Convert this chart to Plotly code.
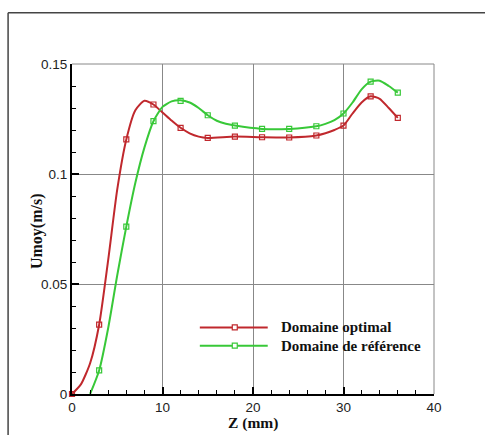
import plotly.graph_objects as go

# ---- Data ----
# marker positions
z_opt = [0, 3, 6, 9, 12, 15, 18, 21, 24, 27, 30, 33, 36]
u_opt = [0.0, 0.0315, 0.1157, 0.1316, 0.1210, 0.1164, 0.1170, 0.1167, 0.1166, 0.1175, 0.1220, 0.1353, 0.1255]

z_ref = [3, 6, 9, 12, 15, 18, 21, 24, 27, 30, 33, 36]
u_ref = [0.0107, 0.0761, 0.1240, 0.1332, 0.1267, 0.1220, 0.1205, 0.1205, 0.1217, 0.1275, 0.1420, 0.1370]

# smooth curve
z_opt_curve = [0, 1, 2, 3, 4, 5, 6, 7, 8, 9, 10, 11, 12, 13, 14, 15, 18, 21, 24, 27, 28, 29, 30, 31, 32, 33, 34, 35, 36]
u_opt_curve = [0.0, 0.0045, 0.0140, 0.0315, 0.0610, 0.0930, 0.1157, 0.1290, 0.1333, 0.1316, 0.1280, 0.1243, 0.1210,
               0.1185, 0.1170, 0.1164, 0.1170, 0.1167, 0.1166, 0.1175, 0.1185, 0.1200, 0.1220, 0.1275, 0.1325,
               0.1353, 0.1342, 0.1300, 0.1255]

z_ref_curve = [2, 3, 4, 5, 6, 7, 8, 9, 10, 11, 12, 13, 14, 15, 16, 17, 18, 21, 24, 27, 28, 29, 30, 31, 32, 33, 34, 35, 36]
u_ref_curve = [0.0, 0.0107, 0.0300, 0.0540, 0.0761, 0.0960, 0.1120, 0.1240, 0.1305, 0.1330, 0.1335, 0.1325, 0.1300,
               0.1267, 0.1242, 0.1228, 0.1220, 0.1205, 0.1205, 0.1217, 0.1228, 0.1245, 0.1275, 0.1325, 0.1385,
               0.1420, 0.1424, 0.1400, 0.1370]

series_names = ["Domaine optimal", "Domaine de référence"]
series_colors = ["#c0282d", "#38c838"]

x_ticks = [0, 10, 20, 30, 40]
y_ticks = [0, 0.05, 0.1, 0.15]
y_ticktext = ["0", "0.05", "0.1", "0.15"]

W, H = 485, 435
L, R, T, B = 72, 50.5, 63.5, 40.5
pw, ph = W - L - R, H - T - B


def px2paper(x, y):
    return (x - L) / pw, (H - B - y) / ph


fig = go.Figure()
for zc, uc, zs, us, name, col in [
    (z_opt_curve, u_opt_curve, z_opt, u_opt, series_names[0], series_colors[0]),
    (z_ref_curve, u_ref_curve, z_ref, u_ref, series_names[1], series_colors[1]),
]:
    fig.add_trace(go.Scatter(
        x=zc, y=uc, name=name, mode="lines",
        line=dict(color=col, width=2, shape="spline", smoothing=0.6),
        showlegend=False, cliponaxis=False, hoverinfo="skip"))
    fig.add_trace(go.Scatter(
        x=zs, y=us, name=name, mode="markers",
        marker=dict(symbol="square-open", size=5, color=col, line=dict(width=1.2, color=col)),
        showlegend=False, cliponaxis=False))

shapes = []
# outer frame (top + left)
x0, y0 = px2paper(8, 12)
x1, _ = px2paper(W + 5, 12)
_, y1 = px2paper(8, H + 5)
shapes.append(dict(type="line", xref="paper", yref="paper", x0=x0, y0=y0, x1=x1, y1=y0,
                   line=dict(color="#444444", width=1.5)))
shapes.append(dict(type="line", xref="paper", yref="paper", x0=x0, y0=y0, x1=x0, y1=y1,
                   line=dict(color="#444444", width=1.5)))
# top/right plot border
shapes.append(dict(type="line", xref="paper", yref="paper", x0=0, y0=1, x1=1, y1=1,
                   line=dict(color="#888888", width=1)))
shapes.append(dict(type="line", xref="paper", yref="paper", x0=1, y0=0, x1=1, y1=1,
                   line=dict(color="#888888", width=1)))

annotations = []
# custom legend
leg_rows = [327.7, 346]
for i, (name, col) in enumerate(zip(series_names, series_colors)):
    yy = leg_rows[i]
    lx0, ly = px2paper(200, yy)
    lx1, _ = px2paper(268, yy)
    shapes.append(dict(type="line", xref="paper", yref="paper", x0=lx0, y0=ly, x1=lx1, y1=ly,
                       line=dict(color=col, width=2)))
    mx0, my0 = px2paper(232.5, yy + 2.5)
    mx1, my1 = px2paper(237.5, yy - 2.5)
    shapes.append(dict(type="rect", xref="paper", yref="paper", x0=mx0, y0=my0, x1=mx1, y1=my1,
                       line=dict(color=col, width=1.2), fillcolor="white"))
    tx, ty = px2paper(279, yy)
    annotations.append(dict(xref="paper", yref="paper", x=tx, y=ty, xanchor="left", yanchor="middle",
                            text="<b>%s</b>" % name, showarrow=False,
                            font=dict(family="Liberation Serif", size=15, color="#111111")))

# axis titles
tx, ty = px2paper(253, 424)
annotations.append(dict(xref="paper", yref="paper", x=tx, y=ty, xanchor="center", yanchor="middle",
                        text="<b>Z (mm)</b>", showarrow=False,
                        font=dict(family="Liberation Serif", size=15.5, color="#111111")))
tx, ty = px2paper(37, 231)
annotations.append(dict(xref="paper", yref="paper", x=tx, y=ty, xanchor="center", yanchor="middle",
                        text="<b>Umoy(m/s)</b>", showarrow=False, textangle=-90,
                        font=dict(family="Liberation Serif", size=16, color="#111111")))

fig.update_layout(
    width=W, height=H,
    margin=dict(l=L, r=R, t=T, b=B, pad=0),
    paper_bgcolor="white", plot_bgcolor="white",
    shapes=shapes, annotations=annotations,
    showlegend=False,
    font=dict(family="Liberation Sans", size=13.5, color="#222222"),
    xaxis=dict(range=[0, 40], tickvals=x_ticks, ticks="inside", ticklen=7, tickwidth=2,
               tickcolor="black", showline=True, linecolor="black", linewidth=2,
               showgrid=True, gridcolor="#888888", gridwidth=1, zeroline=False,
               minor=dict(dtick=2, ticks="inside", ticklen=4, tickcolor="black", tickwidth=1, showgrid=False)),
    yaxis=dict(range=[0, 0.15], tickvals=y_ticks, ticktext=y_ticktext, ticks="inside", ticklen=7,
               tickwidth=2, tickcolor="black", showline=True, linecolor="black", linewidth=2,
               showgrid=True, gridcolor="#888888", gridwidth=1, zeroline=False,
               minor=dict(dtick=0.01, ticks="inside", ticklen=4, tickcolor="black", tickwidth=1, showgrid=False)),
)

fig.write_html("out.html", config={"displayModeBar": False},
               post_script="document.body.style.margin='0';document.body.style.overflow='hidden';")
